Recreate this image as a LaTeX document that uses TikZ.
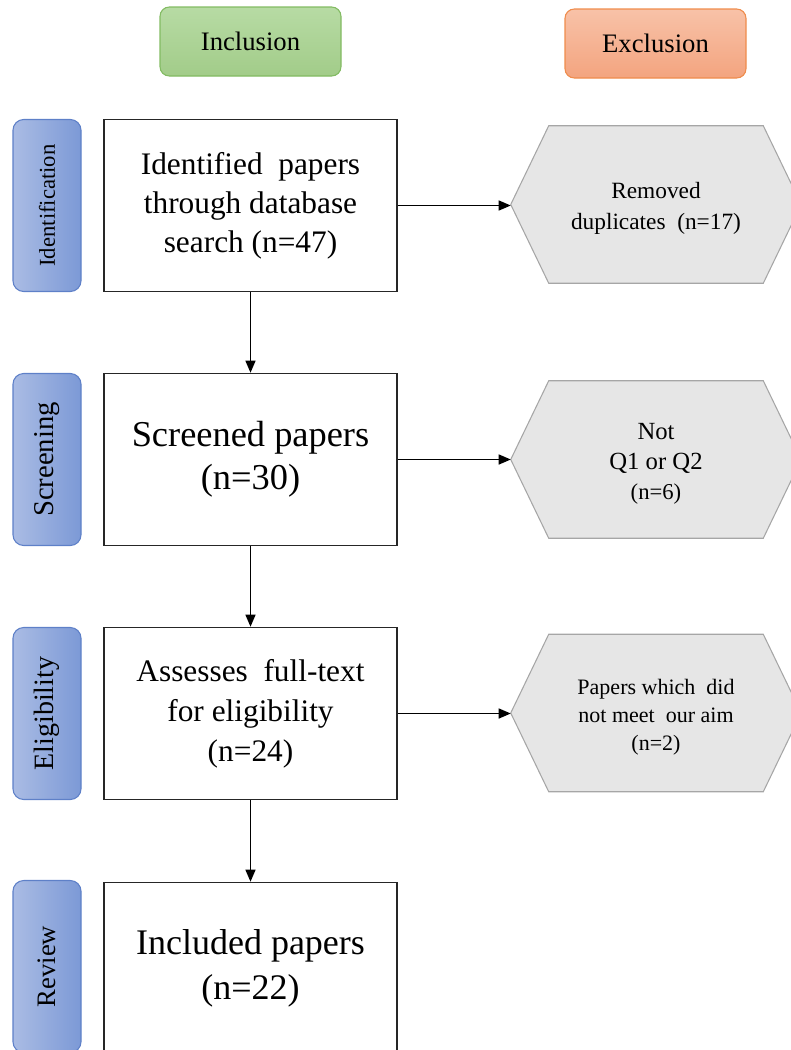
\documentclass[tikz,border=0pt]{standalone}
\usepackage{fontspec}
\setmainfont{Liberation Serif}
\usetikzlibrary{arrows.meta,backgrounds}
\definecolor{incfill1}{HTML}{B7DBA4}
\definecolor{incfill2}{HTML}{A2CC89}
\definecolor{incline}{HTML}{82BB62}
\definecolor{excfill1}{HTML}{F8C2A8}
\definecolor{excfill2}{HTML}{F3A47F}
\definecolor{excline}{HTML}{EF8C4C}
\definecolor{sidefill1}{HTML}{AABCE4}
\definecolor{sidefill2}{HTML}{7C99D6}
\definecolor{sideline}{HTML}{5E80C8}
\definecolor{hexfill}{HTML}{E6E6E6}
\definecolor{hexline}{HTML}{A6A6A6}
\tikzset{
  header/.style={rounded corners=7pt, line width=0.8pt, minimum width=135.75pt, minimum height=51.75pt, inner sep=0pt, font=\fontsize{20}{24}\selectfont},
  sidebox/.style={rounded corners=8pt, draw=sideline, line width=0.8pt, left color=sidefill1, right color=sidefill2, minimum width=51pt, minimum height=129pt, inner sep=0pt},
  mainbox/.style={draw=black!85, line width=1.2pt, fill=white, minimum width=219.75pt, minimum height=129pt, inner sep=0pt, align=center},
  hexnode/.style={minimum width=217.5pt, minimum height=117.75pt, inner sep=0pt, align=center},
  hexshape/.style={fill=hexfill, draw=hexline, line width=0.8pt},
  arr/.style={line width=1pt, -{Triangle[length=9pt,width=7.5pt]}}
}
\begin{document}
\begin{tikzpicture}[x=0.75pt,y=-0.75pt]
\useasboundingbox (0,0) rectangle (790,1050);
% headers
\node[header, draw=incline, top color=incfill1, bottom color=incfill2] (inc) at (250.5,41.5) {Inclusion};
\node[header, draw=excline, top color=excfill1, bottom color=excfill2] (exc) at (655.5,43.5) {Exclusion};
% side labels
\node[sidebox] (s1) at (47,205.5) {\rotatebox{90}{\fontsize{17}{20}\selectfont Identification}};
\node[sidebox] (s2) at (47,459.5) {\rotatebox{90}{\fontsize{21.5}{25}\selectfont Screening}};
\node[sidebox] (s3) at (47,713.5) {\rotatebox{90}{\fontsize{21}{25}\selectfont Eligibility}};
\node[sidebox] (s4) at (47,966.5) {\rotatebox{90}{\fontsize{20}{24}\selectfont Review}};
% main boxes
\node[mainbox, font=\fontsize{23.5}{29.25}\selectfont] (b1) at (250.5,205.5) {Identified\ \ papers\\through database\\search (n=47)};
\node[mainbox, font=\fontsize{27.3}{32.25}\selectfont] (b2) at (250.5,459.5) {Screened papers\\(n=30)};
\node[mainbox, font=\fontsize{23.5}{30}\selectfont] (b3) at (250.5,713.5) {Assesses\ \ full-text\\for eligibility\\(n=24)};
\node[mainbox, font=\fontsize{27}{33.75}\selectfont] (b4) at (250.5,968.5) {Included papers\\(n=22)};
% hexagon nodes (text set slightly below the shape's centre)
\node[hexnode, font=\fontsize{17.5}{23.25}\selectfont] (h1) at (656,208.5) {Removed\\duplicates\ \ (n=17)};
\node[hexnode, font=\fontsize{18.5}{22.5}\selectfont] (h2) at (656,463.5) {Not\\Q1 or Q2\\{\fontsize{17}{20}\selectfont(n=6)}};
\node[hexnode, font=\fontsize{16.5}{21}\selectfont] (h3) at (656,717) {Papers which\ \ did\\not meet\ \ our aim\\(n=2)};
\begin{scope}[on background layer]
\foreach \h in {h1,h2,h3}
  \draw[hexshape] ([yshift=3pt]\h.west) -- ([xshift=28.5pt,yshift=3pt]\h.north west) -- ([xshift=-28.5pt,yshift=3pt]\h.north east) -- ([yshift=3pt]\h.east) -- ([xshift=-28.5pt,yshift=3pt]\h.south east) -- ([xshift=28.5pt,yshift=3pt]\h.south west) -- cycle;
\end{scope}
% connectors
\draw[arr] (b1.east) -- (b1.east -| h1.west);
\draw[arr] (b2.east) -- (b2.east -| h2.west);
\draw[arr] (b3.east) -- (b3.east -| h3.west);
\draw[arr] (b1.south) -- (b2.north);
\draw[arr] (b2.south) -- (b3.north);
\draw[arr] (b3.south) -- (b4.north);
\end{tikzpicture}
\end{document}
